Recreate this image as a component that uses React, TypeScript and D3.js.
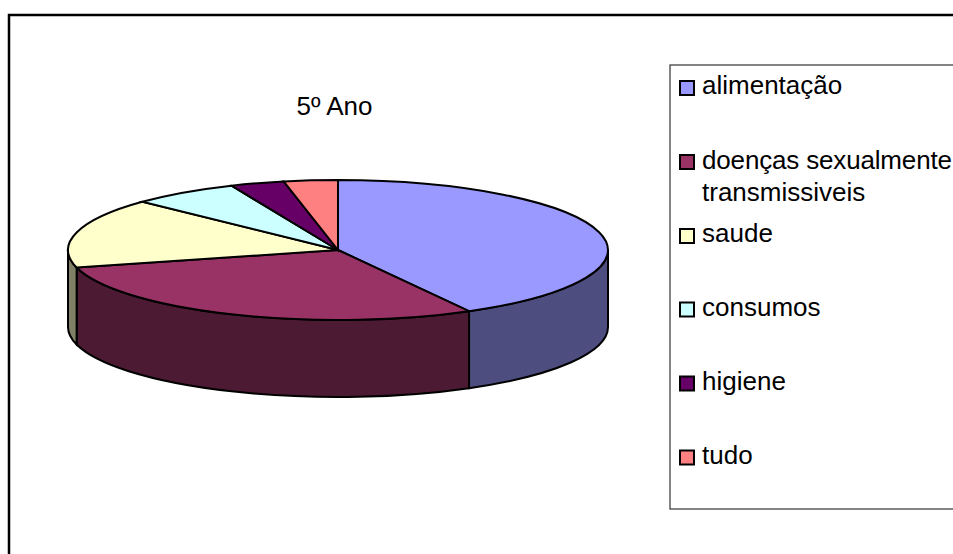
import React from "react";
import * as d3 from "d3";

const categories = ["alimentação", "doenças sexualmente|transmissiveis", "saude", "consumos", "higiene", "tudo"];
const values = [13, 9, 5, 2, 1, 1];
const topColors = ["#9999ff", "#993366", "#ffffcc", "#ccffff", "#660066", "#ff8080"];
const sideColors = ["#4d4d80", "#4d1a33", "#808066", "#668080", "#330033", "#804040"];
const swatchY = [88, 162, 236, 309.5, 383.5, 457.5];
const baselineY = [94, 168.5, 242, 316, 390, 464];

const cx = 338, cy = 250, rx = 270, ry = 70, depth = 77;

function pt(a: number, dy = 0): [number, number] {
  return [cx + rx * Math.sin(a), cy - ry * Math.cos(a) + dy];
}

function topPath(a0: number, a1: number) {
  const [x0, y0] = pt(a0), [x1, y1] = pt(a1);
  return `M${cx},${cy}L${x0},${y0}A${rx},${ry} 0 ${a1 - a0 > Math.PI ? 1 : 0} 1 ${x1},${y1}Z`;
}

function sidePath(a0: number, a1: number) {
  const s = Math.max(a0, Math.PI / 2), e = Math.min(a1, 1.5 * Math.PI);
  if (e <= s) return null;
  const [x0, y0] = pt(s), [x1, y1] = pt(e);
  const [x2, y2] = pt(e, depth), [x3, y3] = pt(s, depth);
  return `M${x0},${y0}A${rx},${ry} 0 0 1 ${x1},${y1}L${x2},${y2}A${rx},${ry} 0 0 0 ${x3},${y3}Z`;
}

export default function App() {
  const arcs = d3.pie<number>().sort(null)(values);
  return (
    <svg width={953} height={554} style={{ position: "absolute", left: 0, top: 0 }} fontFamily="Liberation Sans, Arial, sans-serif">
      <rect x={0} y={0} width={953} height={554} fill="#ffffff" />
      <path d="M9,554V15H953" fill="none" stroke="#000" strokeWidth={2.5} />
      <text x={334.5} y={115} fontSize={26} textAnchor="middle" fill="#000">5º Ano</text>
      {arcs.map((d, i) => {
        const p = sidePath(d.startAngle, d.endAngle);
        return p ? <path key={i} d={p} fill={sideColors[i]} stroke="#000" strokeWidth={2} /> : null;
      })}
      {arcs.map((d, i) => (
        <path key={i} d={topPath(d.startAngle, d.endAngle)} fill={topColors[i]} stroke="#000" strokeWidth={2} />
      ))}
      <rect x={670} y={65} width={290} height={444} fill="#fff" stroke="#333" strokeWidth={1.2} />
      {categories.map((c, i) => {
        const lines = c.split("|");
        return (
          <g key={i}>
            <rect x={680} y={swatchY[i] - 7} width={14} height={14} fill={topColors[i]} stroke="#000" strokeWidth={2} />
            {lines.map((l, j) => (
              <text key={j} x={702} y={baselineY[i] + j * 32.5} fontSize={26} fill="#000"
                textLength={j === 0 && lines.length > 1 ? 250 : undefined}>{l}</text>
            ))}
          </g>
        );
      })}
    </svg>
  );
}
